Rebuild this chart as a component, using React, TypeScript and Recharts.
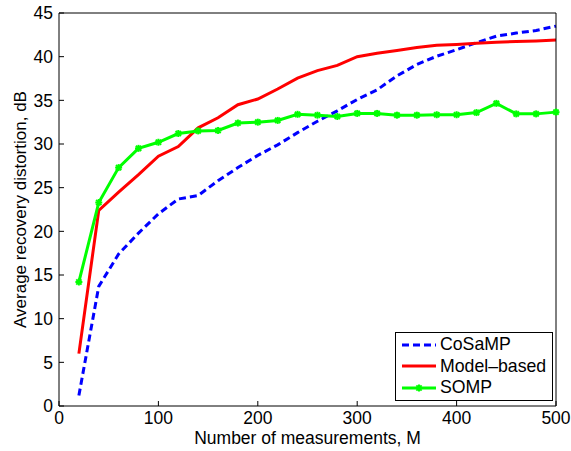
import { LineChart, Line, XAxis, YAxis, Legend } from "recharts";

const measurements = [
  20, 40, 60, 80, 100, 120, 140, 160, 180, 200, 220, 240, 260, 280, 300, 320,
  340, 360, 380, 400, 420, 440, 460, 480, 500,
];
const cosamp = [
  1.2, 13.7, 17.4, 19.8, 22.0, 23.7, 24.1, 25.8, 27.3, 28.7, 29.9, 31.3, 32.6,
  33.8, 35.1, 36.2, 37.8, 39.1, 40.05, 40.8, 41.6, 42.35, 42.7, 43.0, 43.5,
];
const modelBased = [
  6.0, 22.4, 24.5, 26.5, 28.6, 29.7, 31.85, 33.0, 34.5, 35.15, 36.3, 37.55,
  38.4, 39.0, 40.0, 40.4, 40.7, 41.05, 41.3, 41.4, 41.55, 41.65, 41.75, 41.8,
  41.9,
];
const somp = [
  14.2, 23.3, 27.3, 29.5, 30.2, 31.2, 31.5, 31.55, 32.4, 32.5, 32.7, 33.4,
  33.3, 33.15, 33.5, 33.5, 33.3, 33.3, 33.35, 33.35, 33.6, 34.65, 33.45, 33.45,
  33.65,
];
const xTicks = [0, 100, 200, 300, 400, 500];
const yTicks = [0, 5, 10, 15, 20, 25, 30, 35, 40, 45];

const data = measurements.map((m, i) => ({
  m,
  cosamp: cosamp[i],
  model: modelBased[i],
  somp: somp[i],
}));

const FONT = "'Liberation Sans', Arial, Helvetica, sans-serif";
const tickStyle = { fill: "#000", fontSize: 17.5, fontFamily: FONT };

// matlab '*' marker
const Star = (props: any) => {
  const { cx, cy } = props;
  if (cx == null || cy == null) return null;
  const r = 3.5;
  const d = r * 0.75;
  return (
    <g stroke="#00ff00" strokeWidth={2}>
      <line x1={cx - r} y1={cy} x2={cx + r} y2={cy} />
      <line x1={cx} y1={cy - r} x2={cx} y2={cy + r} />
      <line x1={cx - d} y1={cy - d} x2={cx + d} y2={cy + d} />
      <line x1={cx - d} y1={cy + d} x2={cx + d} y2={cy - d} />
    </g>
  );
};

const legendItems = [
  { name: "CoSaMP", color: "#0000ff", dash: "7 4", star: false },
  { name: "Model\u2013based", color: "#ff0000", dash: undefined, star: false },
  { name: "SOMP", color: "#00ff00", dash: undefined, star: true },
];

const LegendBox = () => (
  <div
    style={{
      width: 158,
      height: 69,
      boxSizing: "border-box",
      border: "1px solid #000",
      background: "#fff",
      paddingTop: 1,
      fontFamily: FONT,
      fontSize: 17.7,
      color: "#000",
    }}
  >
    {legendItems.map((it) => (
      <div
        key={it.name}
        style={{ height: 21.5, display: "flex", alignItems: "center" }}
      >
        <svg width={44} height={12} style={{ flex: "none" }}>
          <line
            x1={6}
            y1={6}
            x2={40}
            y2={6}
            stroke={it.color}
            strokeWidth={3}
            strokeDasharray={it.dash}
          />
          {it.star && <Star cx={23} cy={6} />}
        </svg>
        <span style={{ whiteSpace: "nowrap" }}>{it.name}</span>
      </div>
    ))}
  </div>
);

export default function App() {
  return (
    <div style={{ position: "absolute", left: 0, top: 0, background: "#fff" }}>
      <LineChart
        width={571}
        height={451}
        data={data}
        margin={{ top: 12, right: 14, bottom: 0, left: 0 }}
      >
        <XAxis
          dataKey="m"
          type="number"
          domain={[0, 500]}
          ticks={xTicks}
          interval={0}
          height={45}
          stroke="#000"
          tickSize={-5}
          tickMargin={11}
          tick={tickStyle}
          label={{
            content: () => (
              <text
                x={307.5}
                y={444}
                textAnchor="middle"
                fontSize={17.5}
                fontFamily={FONT}
                fill="#000"
              >
                Number of measurements, M
              </text>
            ),
          }}
        />
        <XAxis
          xAxisId="top"
          orientation="top"
          type="number"
          dataKey="m"
          domain={[0, 500]}
          ticks={xTicks}
          interval={0}
          height={1}
          stroke="#000"
          tickSize={-5}
          tick={false}
        />
        <YAxis
          type="number"
          domain={[0, 45]}
          ticks={yTicks}
          interval={0}
          width={59}
          stroke="#000"
          tickSize={-5}
          tickMargin={11}
          tick={tickStyle}
          label={{
            content: () => (
              <text
                transform="translate(26,209.5) rotate(-90)"
                textAnchor="middle"
                fontSize={17}
                fontFamily={FONT}
                fill="#000"
              >
                Average recovery distortion, dB
              </text>
            ),
          }}
        />
        <YAxis
          yAxisId="right"
          orientation="right"
          type="number"
          domain={[0, 45]}
          ticks={yTicks}
          interval={0}
          width={1}
          stroke="#000"
          tickSize={-5}
          tick={false}
        />
        <Line
          type="linear"
          dataKey="cosamp"
          stroke="#0000ff"
          strokeWidth={3}
          strokeDasharray="7 4"
          dot={false}
          activeDot={false}
          isAnimationActive={false}
        />
        <Line
          type="linear"
          dataKey="model"
          stroke="#ff0000"
          strokeWidth={3}
          dot={false}
          activeDot={false}
          isAnimationActive={false}
        />
        <Line
          type="linear"
          dataKey="somp"
          stroke="#00ff00"
          strokeWidth={3}
          dot={<Star />}
          activeDot={false}
          isAnimationActive={false}
        />
        <Legend
          layout="vertical"
          align="center"
          verticalAlign="middle"
          content={() => <LegendBox />}
          wrapperStyle={{ position: "absolute", left: 395, top: 332, width: 158, height: 69 }}
        />
      </LineChart>
    </div>
  );
}
